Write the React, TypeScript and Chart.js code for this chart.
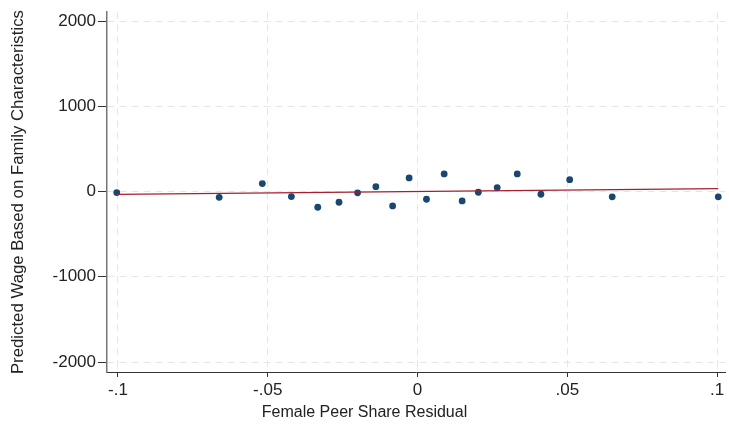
import React, { useEffect, useRef } from "react";
import { Chart, registerables } from "chart.js";

Chart.register(...registerables);

const pointX = [-0.1004, -0.0662, -0.0518, -0.0421, -0.0333, -0.0262, -0.02, -0.0139, -0.0083, -0.0028, 0.003, 0.0089, 0.0149, 0.0203, 0.0266, 0.0333, 0.0412, 0.0508, 0.065, 0.1004];
const pointY = [-12, -67, 94, -58, -184, -125, -15, 58, -168, 160, -90, 207, -109, -8, 47, 207, -31, 140, -62, -62];
const fitX = [-0.1004, 0.1004];
const fitY = [-32, 34];
const xTicks = [-0.1, -0.05, 0, 0.05, 0.1];
const xTickLabels = ["-.1", "-.05", "0", ".05", ".1"];
const yTicks = [-2000, -1000, 0, 1000, 2000];

export default function App() {
  const ref = useRef<HTMLCanvasElement>(null);
  useEffect(() => {
    if (!ref.current) return;
    const font = "'Liberation Sans', Arial, sans-serif";
    const chart = new Chart(ref.current, {
      type: "scatter",
      data: {
        datasets: [
          {
            type: "scatter",
            data: pointX.map((x, i) => ({ x, y: pointY[i] })),
            backgroundColor: "#1a476f",
            borderColor: "#1a476f",
            pointRadius: 3.4,
            borderWidth: 0,
            order: 2,
          },
          {
            type: "line",
            data: fitX.map((x, i) => ({ x, y: fitY[i] })),
            borderColor: "#a3202f",
            borderWidth: 1.3,
            pointRadius: 0,
            fill: false,
            order: 1,
          } as any,
        ],
      },
      options: {
        responsive: false,
        animation: false,
        layout: { padding: { top: 11, right: 0, left: 0, bottom: 0 } },
        plugins: {
          legend: { display: false },
          tooltip: { enabled: false },
          title: {
            display: true,
            position: "bottom",
            text: "Female Peer Share Residual",
            color: "#222",
            font: { family: font, size: 16, weight: "normal" },
            padding: { top: 0, bottom: 10 },
          },
        },
        scales: {
          x: {
            type: "linear",
            min: -0.10365,
            max: 0.10265,
            afterBuildTicks: (s: any) => {
              s.ticks = xTicks.map((v) => ({ value: v }));
            },
            afterFit: (s: any) => {
              s.height = 30.8;
            },
            ticks: {
              color: "#222",
              font: { family: font, size: 17 },
              padding: 3,
              maxRotation: 0,
              autoSkip: false,
              callback: (v: any) => {
                const i = xTicks.findIndex((t) => Math.abs(t - v) < 1e-9);
                return i >= 0 ? xTickLabels[i] : "";
              },
            },
            grid: {
              color: "#e6e6e6",
              lineWidth: 1,
              tickLength: 5,
              tickColor: "#333",
              tickBorderDash: [],
            },
            border: { display: true, color: "#333", width: 1, dash: [7, 5] },
          },
          y: {
            type: "linear",
            min: -2117,
            max: 2105,
            afterBuildTicks: (s: any) => {
              s.ticks = yTicks.map((v) => ({ value: v }));
            },
            afterFit: (s: any) => {
              s.width = 107;
            },
            ticks: {
              color: "#222",
              font: { family: font, size: 17 },
              padding: 2,
              autoSkip: false,
              callback: (v: any) => String(v),
            },
            grid: {
              color: "#e6e6e6",
              lineWidth: 1,
              tickLength: 9,
              tickColor: "#333",
              tickBorderDash: [],
            },
            border: { display: true, color: "#777", width: 1.5, dash: [7, 5] },
            title: {
              display: true,
              text: "Predicted Wage Based on Family Characteristics",
              color: "#222",
              font: { family: font, size: 16.8 },
              padding: { top: 8, bottom: 0 },
            },
          },
        },
      },
    });
    return () => chart.destroy();
  }, []);
  return (
    <div style={{ position: "fixed", left: 0, top: 0, width: 729, height: 432, background: "#fff" }}>
      <canvas ref={ref} width={729} height={432} style={{ width: 729, height: 432, display: "block" }} />
    </div>
  );
}
